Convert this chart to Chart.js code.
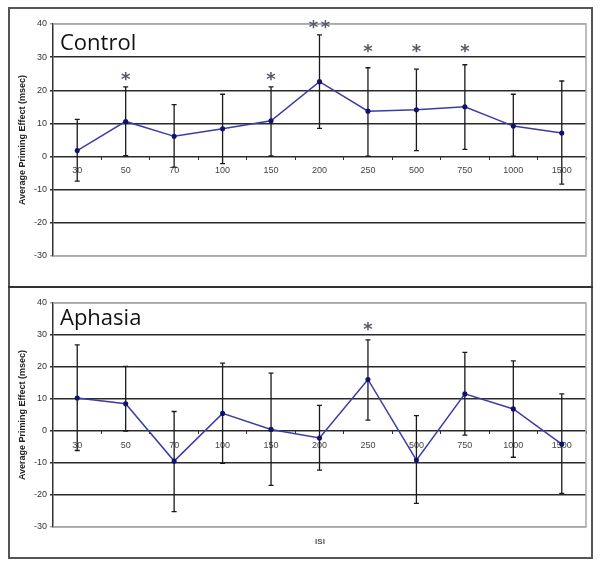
<!DOCTYPE html>
<html>
<head>
<meta charset="utf-8">
<script src="https://cdn.jsdelivr.net/npm/chart.js@4.4.1/dist/chart.umd.min.js"></script>
<style>
  body { margin: 0; background: #fff; width: 601px; height: 566px; position: relative; overflow: hidden; }
  #frame { position: absolute; left: 8px; top: 7px; width: 585px; height: 552px; box-sizing: border-box; border: 2px solid #555; }
  #divider { position: absolute; left: 8px; top: 286px; width: 585px; height: 2px; background: #333; }
  canvas { position: absolute; left: 0; }
  #c1 { top: 0; }
  #c2 { top: 287px; }
</style>
</head>
<body>
<div id="frame"></div>
<div id="divider"></div>
<canvas id="c1" width="601" height="287"></canvas>
<canvas id="c2" width="601" height="279"></canvas>
<script>
// ISI categories
const categories = ['30', '50', '70', '100', '150', '200', '250', '500', '750', '1000', '1500'];
const yTicks = [-30, -20, -10, 0, 10, 20, 30, 40];

// Control group
const controlMean = [1.8, 10.6, 6.1, 8.4, 10.8, 22.6, 13.7, 14.1, 15.0, 9.2, 7.1];
const controlHigh = [11.2, 21.0, 15.7, 18.8, 21.0, 36.7, 26.8, 26.4, 27.7, 18.8, 22.8];
const controlLow = [-7.4, 0.3, -3.2, -2.1, 0.2, 8.5, 0.1, 1.8, 2.2, 0.1, -8.3];
const controlStars = ['', '*', '', '', '*', '**', '*', '*', '*', '', ''];
const controlStarAt = [null, 24.6, null, null, 24.6, 40.2, 33.1, 33.1, 33.1, null, null];

// Aphasia group
const aphasiaMean = [10.3, 8.5, -9.4, 5.5, 0.5, -2.2, 16.1, -9.1, 11.6, 6.9, -4.1];
const aphasiaHigh = [26.9, 20.2, 6.1, 21.2, 18.1, 8.0, 28.5, 4.8, 24.6, 21.9, 11.6];
const aphasiaLow = [-6.1, 0, -25.2, -10.1, -17.0, -12.2, 3.4, -22.6, -1.3, -8.2, -19.5];
const aphasiaStars = ['', '', '', '', '', '', '*', '', '', '', ''];
const aphasiaStarAt = [null, null, null, null, null, null, 33.1, null, null, null, null];

// error bars under the line
const errorBars = {
    id: 'errorBars',
    beforeDatasetsDraw(chart, args, opts) {
        const { ctx, scales: { x, y } } = chart;
        ctx.save();
        ctx.strokeStyle = '#1a1a1a';
        ctx.lineWidth = 1.3;
        opts.low.forEach((lo, i) => {
            const px = x.getPixelForValue(i);
            const yt = y.getPixelForValue(opts.high[i]);
            const yb = y.getPixelForValue(lo);
            ctx.beginPath();
            ctx.moveTo(px, yt); ctx.lineTo(px, yb);
            ctx.moveTo(px - 2.5, yt); ctx.lineTo(px + 2.5, yt);
            ctx.moveTo(px - 2.5, yb); ctx.lineTo(px + 2.5, yb);
            ctx.stroke();
        });
        // grey frame of the plot area (top, right, bottom)
        const a = chart.chartArea;
        ctx.strokeStyle = '#a8a8a8';
        ctx.lineWidth = 1.5;
        ctx.beginPath();
        ctx.moveTo(a.left, a.top); ctx.lineTo(a.right, a.top);
        ctx.lineTo(a.right, a.bottom); ctx.lineTo(a.left, a.bottom);
        ctx.stroke();
        ctx.restore();
    }
};

// panel title, significance stars, ISI label
const notes = {
    id: 'notes',
    afterDraw(chart, args, opts) {
        const { ctx, scales: { x, y } } = chart;
        ctx.save();
        ctx.fillStyle = '#111';
        ctx.font = '22px "Open Sans"';
        ctx.textAlign = 'left';
        ctx.textBaseline = 'alphabetic';
        ctx.fillText(opts.title, 60, opts.titleY);

        ctx.fillStyle = '#555a68';
        ctx.font = 'bold 18px "DejaVu Sans"';
        ctx.textAlign = 'center';
        opts.stars.forEach((s, i) => {
            if (!s) return;
            const px = x.getPixelForValue(i);
            const py = y.getPixelForValue(opts.starAt[i]) + 10;
            const n = s.length;
            for (let k = 0; k < n; k++) {
                ctx.fillText('*', px + (k - (n - 1) / 2) * 12, py);
            }
        });

        if (opts.xTitle) {
            ctx.fillStyle = '#555';
            ctx.font = 'bold 8px Arial';
            ctx.textBaseline = 'middle';
            ctx.fillText(opts.xTitle, 320, opts.xTitleY);
        }
        ctx.restore();
    }
};

function makePanel(id, mean, high, low, stars, starAt, title, titleY, pad, xTitle, xTitleY) {
    return new Chart(document.getElementById(id), {
        type: 'line',
        data: {
            labels: categories,
            datasets: [{
                data: mean,
                borderColor: '#3c3ca6',
                borderWidth: 1.5,
                backgroundColor: '#12126e',
                pointBackgroundColor: '#12126e',
                pointBorderColor: '#12126e',
                pointRadius: 1.8,
                tension: 0,
                fill: false
            }]
        },
        options: {
            responsive: false,
            animation: false,
            layout: { padding: pad },
            plugins: {
                legend: { display: false },
                tooltip: { enabled: false },
                errorBars: { high, low },
                notes: { title, titleY, stars, starAt, xTitle, xTitleY }
            },
            scales: {
                x: {
                    type: 'category',
                    position: { y: 0 },
                    offset: true,
                    grid: { offset: true, drawOnChartArea: false, drawTicks: true, tickLength: 3, color: '#333', lineWidth: 1 },
                    border: { display: false },
                    ticks: { color: '#444', font: { family: 'Arial', size: 9 }, padding: 6, maxRotation: 0, autoSkip: false }
                },
                y: {
                    min: yTicks[0],
                    max: yTicks[yTicks.length - 1],
                    afterBuildTicks: s => { s.ticks = yTicks.map(v => ({ value: v })); },
                    afterFit: s => { s.width = 53; },
                    grid: {
                        color: c => (c.tick && (c.tick.value === 40 || c.tick.value === -30)) ? '#a8a8a8' : '#2a2a2a',
                        lineWidth: 1.5,
                        drawTicks: true,
                        tickLength: 3
                    },
                    border: { display: true, color: '#333', width: 1.5 },
                    ticks: { color: '#333', font: { family: 'Arial', size: 9 }, padding: 3 },
                    title: {
                        display: true,
                        text: 'Average Priming Effect (msec)',
                        color: '#222',
                        font: { family: 'Arial', size: 9, weight: 'bold' },
                        padding: { top: 17, bottom: 0 }
                    }
                }
            }
        },
        plugins: [errorBars, notes]
    });
}

makePanel('c1', controlMean, controlHigh, controlLow, controlStars, controlStarAt,
    'Control', 50, { left: 0, right: 15, top: 24, bottom: 31 });
makePanel('c2', aphasiaMean, aphasiaHigh, aphasiaLow, aphasiaStars, aphasiaStarAt,
    'Aphasia', 38, { left: 0, right: 15, top: 16, bottom: 39 }, 'ISI', 255);
</script>
</body>
</html>
